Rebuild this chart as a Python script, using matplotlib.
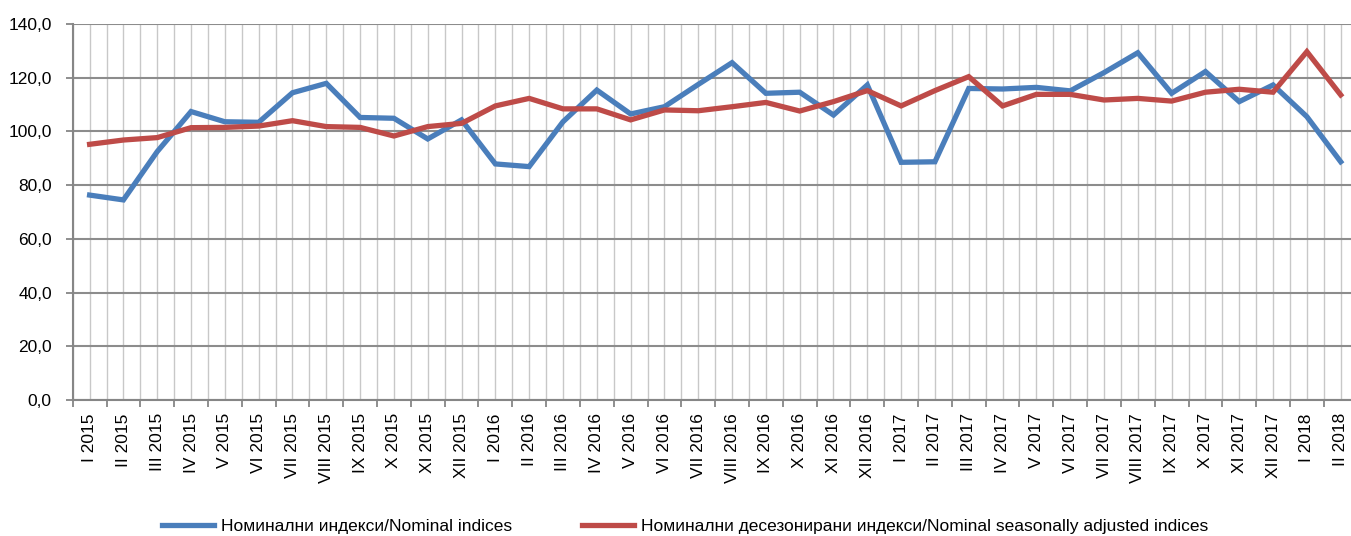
import numpy as np
import matplotlib
matplotlib.use("Agg")
import matplotlib.pyplot as plt
from matplotlib.ticker import FuncFormatter

months = ["I", "II", "III", "IV", "V", "VI", "VII", "VIII", "IX", "X", "XI", "XII"]
labels = ["%s %d" % (m, y) for y in (2015, 2016, 2017) for m in months] + ["I 2018", "II 2018"]

nominal = [76.3, 74.5, 92.5, 107.4, 103.6, 103.4, 114.4, 117.9, 105.2, 104.9, 97.2, 104.3,
           87.9, 86.9, 103.6, 115.4, 106.5, 109.2, 117.5, 125.6, 114.2, 114.6, 106.1, 117.3,
           88.5, 88.7, 116.0, 115.8, 116.4, 115.1, 121.9, 129.3, 114.2, 122.3, 111.1, 117.3,
           105.5, 88.7]
adjusted = [95.2, 96.8, 97.7, 101.4, 101.5, 102.0, 104.0, 101.8, 101.5, 98.3, 101.8, 103.0,
            109.5, 112.3, 108.4, 108.4, 104.3, 108.0, 107.7, 109.2, 110.8, 107.6, 111.1, 115.2,
            109.5, 115.2, 120.4, 109.5, 113.8, 113.8, 111.7, 112.3, 111.3, 114.6, 115.7, 114.6,
            129.7, 113.6]

name_nom = "Номинални индекси/Nominal indices"
name_adj = "Номинални десезонирани индекси/Nominal seasonally adjusted indices"

# Arial Narrow look-alike is not available; a smaller Liberation Sans keeps the widths
plt.rcParams['font.family'] = ['Liberation Sans', 'DejaVu Sans']
plt.rcParams['font.size'] = 12.5

W, H = 1351, 536
fig = plt.figure(figsize=(W / 100, H / 100), dpi=100)
ax = fig.add_axes([72.7 / W, 1 - 400 / H, (1357.6 - 72.7) / W, 376 / H])

x = np.arange(len(labels))
ax.plot(x, nominal, color="#4a7ebb", lw=3.8, solid_joinstyle="miter", label=name_nom, zorder=3)
ax.plot(x, adjusted, color="#be4b48", lw=3.8, solid_joinstyle="miter", label=name_adj, zorder=3)

ax.set_xlim(-0.5, len(labels) - 0.5)
ax.set_ylim(0, 140)
ax.set_yticks(np.arange(0, 141, 20))
ax.yaxis.set_major_formatter(FuncFormatter(lambda v, p: ("%.1f" % v).replace(".", ",")))

# labels at the points, tick marks at category boundaries
ax.set_xticks(x)
ax.set_xticklabels(labels, rotation=90, va="top", ha="center")
ax.set_xticks(np.arange(-0.5, len(labels)), minor=True)
ax.tick_params(axis="x", which="major", length=0, pad=9.5)
ax.tick_params(axis="x", which="minor", length=5, width=1.3, color="#868686")
ax.tick_params(axis="y", length=5, width=1.3, color="#868686", pad=10)

ax.grid(axis="y", color="#8c8c8c", lw=1.5, zorder=1)
ax.grid(axis="x", which="both", color="#c8c8c8", lw=1.0, zorder=0)
ax.set_axisbelow(True)

for s in ("top", "right"):
    ax.spines[s].set_visible(False)
for s in ("left", "bottom"):
    ax.spines[s].set_color("#868686")
    ax.spines[s].set_linewidth(1.5)

fig.legend(loc="center left", bbox_to_anchor=(162 / W, 1 - 526 / H), ncol=2, frameon=False,
           handlelength=3.0, handletextpad=0.4, columnspacing=4.0, borderpad=0, borderaxespad=0)

fig.savefig("out.png", dpi=100)
